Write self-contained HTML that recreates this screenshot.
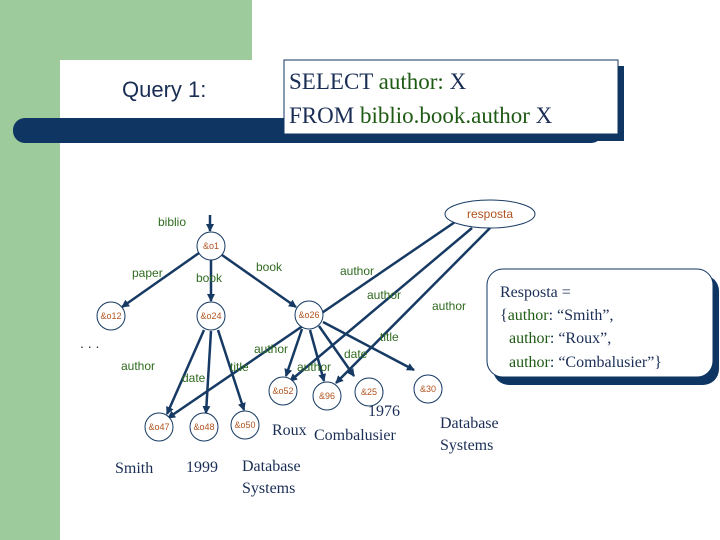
<!DOCTYPE html>
<html><head><meta charset="utf-8"><style>
body{margin:0;width:720px;height:540px;overflow:hidden;background:#fff}
svg{display:block}
.g{font-family:"Liberation Sans",sans-serif;font-size:12px;fill:#2f6b1f}
.n{font-family:"Liberation Sans",sans-serif;font-size:9px;fill:#b0521e;text-anchor:middle}
.s{font-family:"Liberation Serif",serif;font-size:16px;fill:#1a2e55}
</style></head><body>
<svg width="720" height="540" viewBox="0 0 720 540">
<defs><marker id="a" markerWidth="8" markerHeight="8" refX="7" refY="4" orient="auto" markerUnits="userSpaceOnUse"><path d="M0,0 L8,4 L0,8 z" fill="#163a63"/></marker></defs>
<rect x="0" y="0" width="252" height="60" fill="#9ecb9b"/>
<rect x="0" y="0" width="60" height="540" fill="#9ecb9b"/>
<path d="M60,540 L60,80 Q60,60 80,60 L252,60 L252,540 Z" fill="#fff"/>
<rect x="44" y="60" width="16" height="480" fill="#9ecb9b"/>
<path d="M74,60 L80,60 Q60,60 60,80 L60,74 Z" fill="#fff"/>
<rect x="13" y="118" width="590" height="25" rx="12" fill="#0f3562"/>
<text x="122" y="97" font-family="Liberation Sans,sans-serif" font-size="22" fill="#1a2e55">Query 1:</text>
<rect x="290" y="66" width="334" height="75" fill="#0f3562"/>
<rect x="284" y="60" width="334" height="74" fill="#fff" stroke="#0f3562" stroke-width="1"/>
<text x="289" y="89" font-family="Liberation Serif,serif" font-size="23" fill="#1a2e55">SELECT <tspan fill="#1f5a14">author: </tspan>X</text>
<text x="289" y="123" font-family="Liberation Serif,serif" font-size="23" fill="#1a2e55">FROM <tspan fill="#1f5a14">biblio.book.author </tspan>X</text>
<g stroke="#163a63" stroke-width="2.5" fill="none" marker-end="url(#a)">
<line x1="210" y1="215" x2="210" y2="231"/>
<line x1="199" y1="253" x2="122" y2="307"/>
<line x1="211" y1="260" x2="211" y2="301"/>
<line x1="222" y1="255" x2="296" y2="307"/>
<line x1="204" y1="330" x2="167" y2="414"/>
<line x1="211" y1="331" x2="206" y2="413"/>
<line x1="218" y1="330" x2="244" y2="410"/>
<line x1="302" y1="329" x2="286" y2="376"/>
<line x1="310" y1="330" x2="324" y2="381"/>
<line x1="319" y1="326" x2="354" y2="376"/>
<line x1="323" y1="322" x2="414" y2="370"/>
<line x1="455" y1="222" x2="168" y2="418"/>
<line x1="472" y1="228" x2="290" y2="381"/>
<line x1="490" y1="228" x2="336" y2="383"/>
</g>
<g fill="#fff" stroke="#163a63" stroke-width="1">
<circle cx="211" cy="246" r="14"/><circle cx="111" cy="316" r="14"/><circle cx="211" cy="316" r="14"/><circle cx="309" cy="315" r="14"/>
<circle cx="283" cy="391" r="14"/><circle cx="327" cy="396" r="14"/><circle cx="369" cy="392" r="14"/><circle cx="428" cy="389" r="14"/>
<circle cx="159" cy="427" r="14"/><circle cx="204" cy="427" r="14"/><circle cx="245" cy="425" r="14"/>
<ellipse cx="490" cy="214" rx="45" ry="14"/>
</g>
<g class="n">
<text x="211" y="249">&amp;o1</text><text x="111" y="319">&amp;o12</text><text x="211" y="319">&amp;o24</text><text x="309" y="318">&amp;o26</text>
<text x="283" y="394">&amp;o52</text><text x="327" y="399">&amp;96</text><text x="369" y="395">&amp;25</text><text x="428" y="392">&amp;30</text>
<text x="159" y="430">&amp;o47</text><text x="204" y="430">&amp;o48</text><text x="245" y="428">&amp;o50</text>
<text x="490" y="218" font-size="12">resposta</text>
</g>
<g class="g">
<text x="158" y="226">biblio</text><text x="132" y="277">paper</text><text x="196" y="282">book</text><text x="256" y="271">book</text>
<text x="340" y="275">author</text><text x="367" y="299">author</text><text x="432" y="310">author</text>
<text x="380" y="341">title</text><text x="344" y="358">date</text><text x="254" y="353">author</text><text x="297" y="371">author</text>
<text x="230" y="371">title</text><text x="182" y="382">date</text><text x="121" y="370">author</text>
</g>
<text x="80" y="348" font-family="Liberation Sans,sans-serif" font-size="14" fill="#333">. . .</text>
<g class="s">
<text x="115" y="473">Smith</text><text x="186" y="472">1999</text>
<text x="242" y="471">Database</text><text x="242" y="493">Systems</text>
<text x="272" y="435">Roux</text><text x="314" y="440">Combalusier</text><text x="368" y="416">1976</text>
<text x="440" y="428">Database</text><text x="440" y="450">Systems</text>
</g>
<rect x="493" y="275" width="226" height="110" rx="16" fill="#0f3562"/>
<rect x="487" y="269" width="226" height="108" rx="16" fill="#fff" stroke="#0f3562" stroke-width="1"/>
<g class="s">
<text x="500" y="297">Resposta =</text>
<text x="500" y="320">{<tspan fill="#1f5a14">author</tspan>: “Smith”,</text>
<text x="509" y="343"><tspan fill="#1f5a14">author</tspan>: “Roux”,</text>
<text x="509" y="367"><tspan fill="#1f5a14">author</tspan>: “Combalusier”}</text>
</g>
</svg>
</body></html>
